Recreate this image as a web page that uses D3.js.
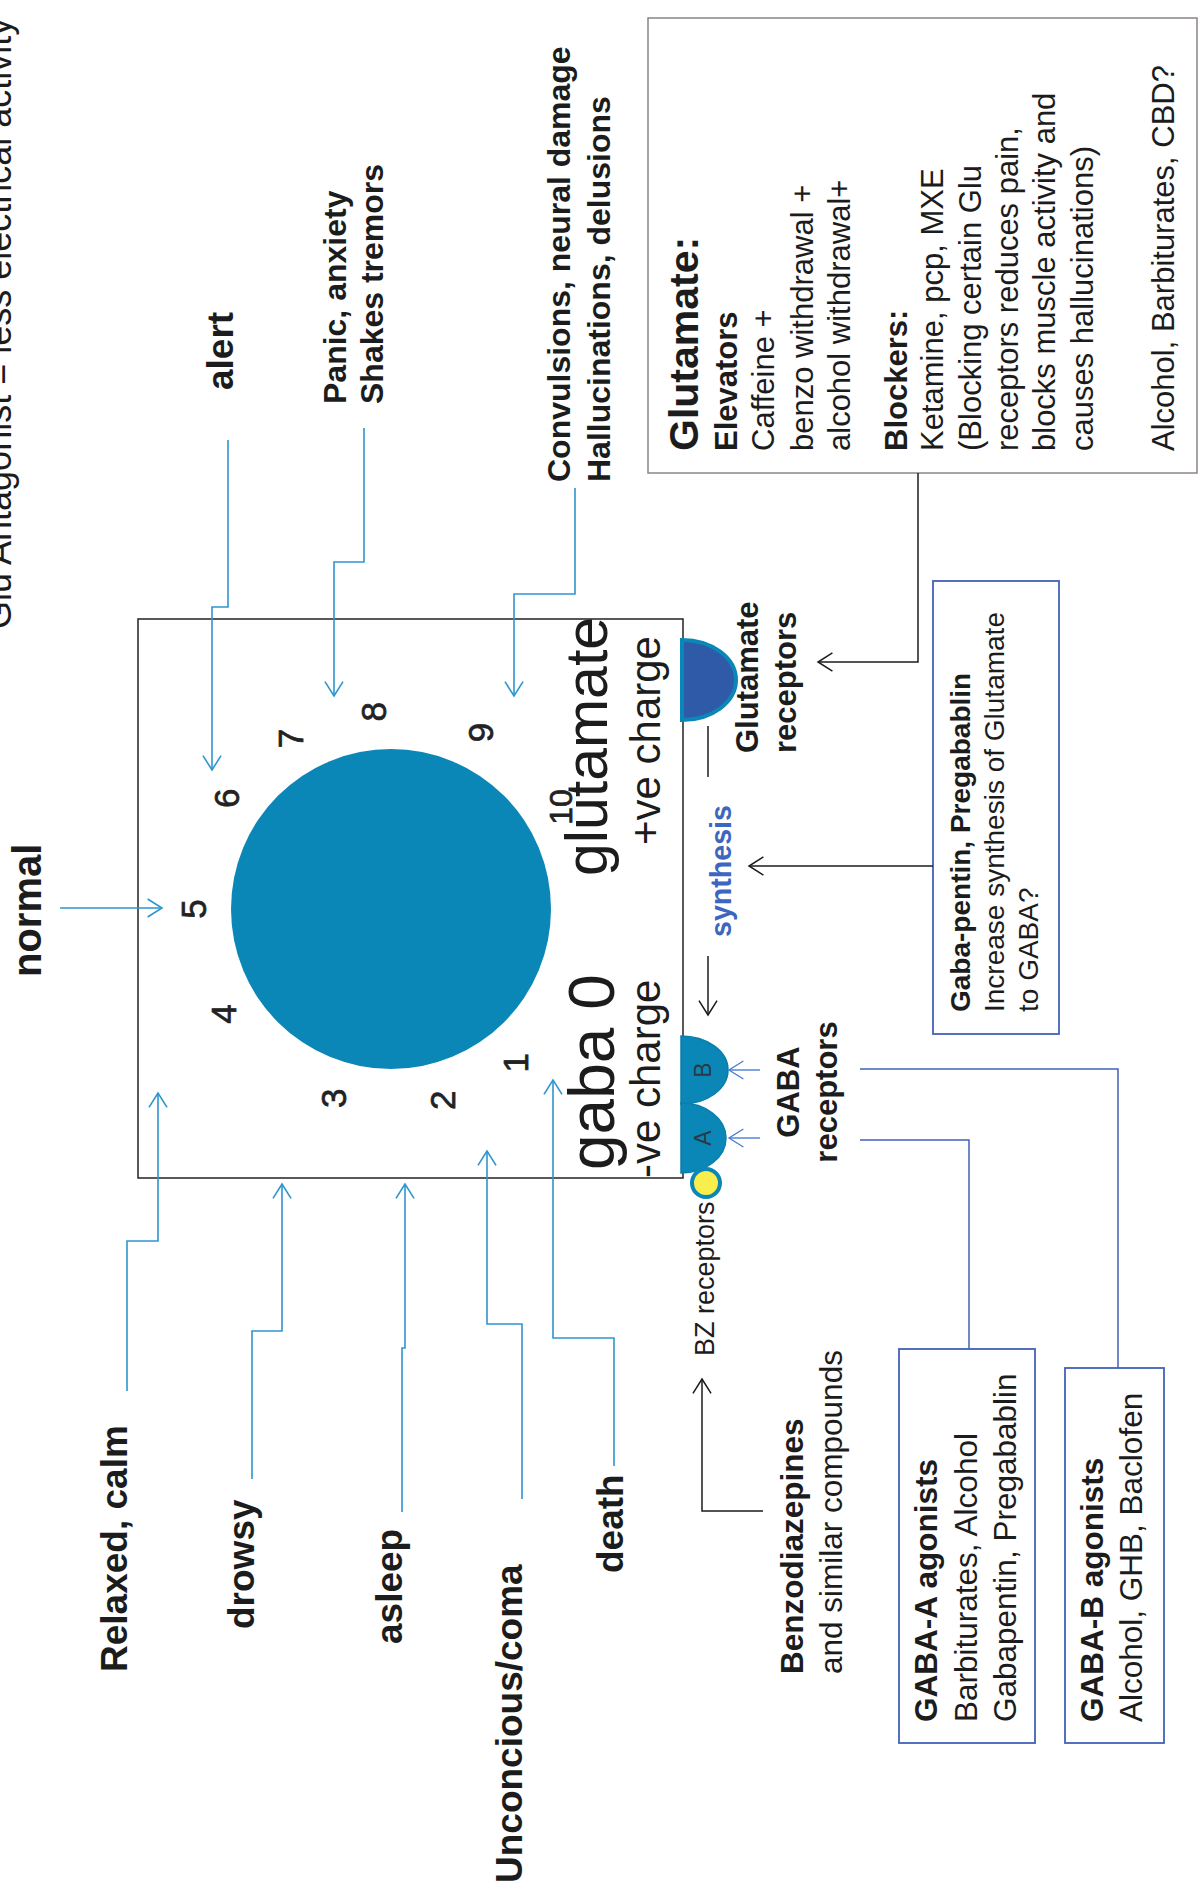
<!DOCTYPE html>
<html>
<head>
<meta charset="utf-8">
<script src="https://cdn.jsdelivr.net/npm/d3@7"></script>
<style>
  body { margin: 0; background: #fff; }
</style>
</head>
<body>
<script>
// dial levels 1..10 around the "neuron"
const levels = [1, 2, 3, 4, 5, 6, 7, 8, 9, 10]

const titleText = 'Glu Antagonist = less electrical activity'

const upperStates = [
    ['normal'],
    ['alert'],
    ['Panic, anxiety', 'Shakes tremors'],
    ['Convulsions, neural damage', 'Hallucinations, delusions']
]
const lowerStates = [
    ['Relaxed, calm'],
    ['drowsy'],
    ['asleep'],
    ['Unconcious/coma'],
    ['death']
]

const glutamateInfo = [
    'Glutamate:', 'Elevators', 'Caffeine +', 'benzo withdrawal +', 'alcohol withdrawal+',
    'Blockers:', 'Ketamine, pcp, MXE', '(Blocking certain Glu', 'receptors reduces pain,',
    'blocks muscle activity and', 'causes hallucinations)', 'Alcohol, Barbiturates, CBD?'
]
const gabapentinInfo = ['Gaba-pentin, Pregabablin', 'Increase synthesis of Glutamate', 'to GABA?']
const gabaAInfo = ['GABA-A agonists', 'Barbiturates, Alcohol', 'Gabapentin, Pregabablin']
const gabaBInfo = ['GABA-B agonists', 'Alcohol, GHB, Baclofen']
const benzoInfo = ['Benzodiazepines', 'and similar compounds']
const receptorNames = ['B', 'A']

document.addEventListener('DOMContentLoaded', () => {

    const w = 1200
    const h = 1897
    const font = '"Liberation Sans", Arial, Helvetica, sans-serif'
    const ink = '#1c1c1c'
    const levelBlue = '#2f95cf'
    const boxBlue = '#4262b8'
    const teal = '#0b87b7'

    const svg = d3.select('body')
        .append('svg')
        .attr('width', w)
        .attr('height', h)

    svg.append('rect').attr('width', w).attr('height', h).attr('fill', '#fff')

    // rotated text: x = baseline, y = start of the text (text reads upward)
    function vt(x, y, text, size, o = {}) {
        return svg.append('text')
            .attr('transform', `translate(${x},${y}) rotate(-90)`)
            .attr('font-family', font)
            .attr('font-size', size)
            .attr('font-weight', o.bold ? 'bold' : 'normal')
            .attr('text-anchor', o.anchor || 'start')
            .attr('dominant-baseline', o.baseline || 'alphabetic')
            .attr('fill', o.fill || ink)
            .text(text)
    }

    const line = d3.line()

    function connector(pts, color, head, width) {
        svg.append('path')
            .attr('d', line(pts))
            .attr('fill', 'none')
            .attr('stroke', color)
            .attr('stroke-width', width || 1.6)
        if (head) {
            const [x1, y1] = pts[pts.length - 2]
            const [x2, y2] = pts[pts.length - 1]
            const a = Math.atan2(y2 - y1, x2 - x1)
            const L = 17, s = 0.56
            svg.append('path')
                .attr('d', line([
                    [x2 - L * Math.cos(a - s), y2 - L * Math.sin(a - s)],
                    [x2, y2],
                    [x2 - L * Math.cos(a + s), y2 - L * Math.sin(a + s)]
                ]))
                .attr('fill', 'none')
                .attr('stroke', color)
                .attr('stroke-width', width || 1.6)
        }
    }

    // right half of an ellipse sitting on the box edge
    function bump(cx, cy, rx, ry) {
        return `M${cx},${cy - ry} A${rx},${ry} 0 0 1 ${cx},${cy + ry} Z`
    }

    // ---- title (cut by the page edge, as in the scan)
    vt(11, 629, titleText, 36)

    // ---- the neuron box
    const box = { x0: 138, y0: 619, x1: 683, y1: 1178 }
    svg.append('rect')
        .attr('x', box.x0).attr('y', box.y0)
        .attr('width', box.x1 - box.x0).attr('height', box.y1 - box.y0)
        .attr('fill', 'none').attr('stroke', '#222').attr('stroke-width', 1.5)

    const cx = 391, cy = 909
    svg.append('circle').attr('cx', cx).attr('cy', cy).attr('r', 160).attr('fill', teal)

    // dial numbers
    const angle = d3.scaleLinear()
        .domain([1, 2, 3, 4, 5, 6, 8, 10])
        .range([51, 75, 107, 148, 180, 214, 265, 329])
    const dialR = 198
    levels.forEach(l => {
        const a = angle(l) * Math.PI / 180
        vt(cx + dialR * Math.cos(a), cy + dialR * Math.sin(a), l, l === 10 ? 32 : 35,
            { anchor: 'middle', baseline: 'central', fill: '#222' })
            .attr('stroke', '#222').attr('stroke-width', 0.7)
    })

    vt(614, 1170, 'gaba 0', 64)
    vt(660, 1178, '-ve charge', 42)
    vt(607, 876, 'glutamate', 59)
    vt(660, 845, '+ve charge', 42)

    // ---- state labels with blue elbow arrows
    const stateLayout = [
        { x: [41], y: 977, size: 40, path: [[60, 908], [162, 908]] },
        { x: [233], y: 390, size: 37, path: [[228, 440], [228, 607], [212, 607], [212, 770]] },
        { x: [346, 383], y: 404, size: 32, path: [[364, 428], [364, 562], [334, 562], [334, 696]] },
        { x: [570, 610], y: 482, size: 32, path: [[575, 488], [575, 594], [514, 594], [514, 696]] },
        { x: [127], y: 1672, size: 37, path: [[127, 1391], [127, 1241], [158, 1241], [158, 1093]] },
        { x: [254], y: 1629, size: 37, path: [[252, 1479], [252, 1331], [282, 1331], [282, 1184]] },
        { x: [402], y: 1644, size: 37, path: [[402, 1512], [402, 1348], [405, 1348], [405, 1184]] },
        { x: [522], y: 1883, size: 37, path: [[522, 1499], [522, 1324], [487, 1324], [487, 1151]] },
        { x: [623], y: 1573, size: 37, path: [[614, 1466], [614, 1338], [553, 1338], [553, 1080]] }
    ]
    upperStates.concat(lowerStates).forEach((lines, i) => {
        const L = stateLayout[i]
        lines.forEach((t, j) => vt(L.x[j], L.y, t, L.size, { bold: true }))
        connector(L.path, levelBlue, true)
    })

    // ---- receptors on the box edge
    svg.append('path').attr('d', bump(682, 680, 54, 40))
        .attr('fill', '#2f5aa7').attr('stroke', teal).attr('stroke-width', 4)

    const gabaBumps = [[1070, 47, 34], [1138, 45, 35]]
    gabaBumps.forEach(([y, rx, ry], i) => {
        svg.append('path').attr('d', bump(681, y, rx, ry))
            .attr('fill', teal).attr('stroke', '#0a7eab').attr('stroke-width', 1.5)
        vt(703, y, receptorNames[i], 23, { anchor: 'middle', baseline: 'central', fill: '#2a3a44' })
        connector([[760, y], [729, y]], '#4a7fd6', true, 1.4)
    })
    svg.append('circle').attr('cx', 706).attr('cy', 1183).attr('r', 14)
        .attr('fill', '#f8ee4c').attr('stroke', teal).attr('stroke-width', 4)

    vt(758, 753, 'Glutamate', 31, { bold: true })
    vt(796, 753, 'receptors', 31, { bold: true })
    vt(799, 1092, 'GABA', 31, { bold: true, anchor: 'middle' })
    vt(837, 1092, 'receptors', 31, { bold: true, anchor: 'middle' })
    vt(714, 1356, 'BZ receptors', 27)

    // synthesis
    connector([[708, 726], [708, 777]], ink, false, 1.5)
    vt(731, 871, 'synthesis', 28.6, { bold: true, anchor: 'middle', fill: '#3d66c0' })
    connector([[708, 956], [708, 1015]], ink, true, 1.5)

    // ---- Glutamate info box
    svg.append('rect').attr('x', 648).attr('y', 18).attr('width', 549).attr('height', 455)
        .attr('fill', 'none').attr('stroke', '#8c8585').attr('stroke-width', 1.5)
    const gluBase = [698, 737, 774, 813, 850, 907, 943, 981, 1018, 1055, 1093, 1174]
    glutamateInfo.forEach((t, i) => {
        const bold = i === 0 || i === 1 || i === 5
        vt(gluBase[i], 451, t, i === 0 ? 41 : 31, { bold })
    })
    connector([[918, 473], [918, 662], [818, 662]], ink, true, 1.5)

    // ---- Gaba-pentin box
    svg.append('rect').attr('x', 933).attr('y', 581).attr('width', 126).attr('height', 453)
        .attr('fill', 'none').attr('stroke', boxBlue).attr('stroke-width', 1.8)
    const gpBase = [970, 1004, 1038]
    gabapentinInfo.forEach((t, i) => vt(gpBase[i], 1012, t, 28, { bold: i === 0 }))
    connector([[933, 866], [749, 866]], ink, true, 1.5)

    // ---- GABA-A / GABA-B agonist boxes
    svg.append('rect').attr('x', 899).attr('y', 1349).attr('width', 136).attr('height', 394)
        .attr('fill', 'none').attr('stroke', boxBlue).attr('stroke-width', 1.8)
    const gaBase = [937, 977, 1016]
    gabaAInfo.forEach((t, i) => vt(gaBase[i], 1722, t, 31.5, { bold: i === 0 }))

    svg.append('rect').attr('x', 1065).attr('y', 1368).attr('width', 99).attr('height', 375)
        .attr('fill', 'none').attr('stroke', boxBlue).attr('stroke-width', 1.8)
    const gbBase = [1103, 1142]
    gabaBInfo.forEach((t, i) => vt(gbBase[i], 1722, t, 31.5, { bold: i === 0 }))

    connector([[860, 1069], [1118, 1069], [1118, 1368]], boxBlue, false, 1.5)
    connector([[860, 1140], [969, 1140], [969, 1349]], boxBlue, false, 1.5)

    // ---- Benzodiazepines
    const bzBase = [803, 842]
    benzoInfo.forEach((t, i) => vt(bzBase[i], 1674, t, 31.5, { bold: i === 0 }))
    connector([[763, 1511], [702, 1511], [702, 1379]], ink, true, 1.5)
})
</script>
</body>
</html>
